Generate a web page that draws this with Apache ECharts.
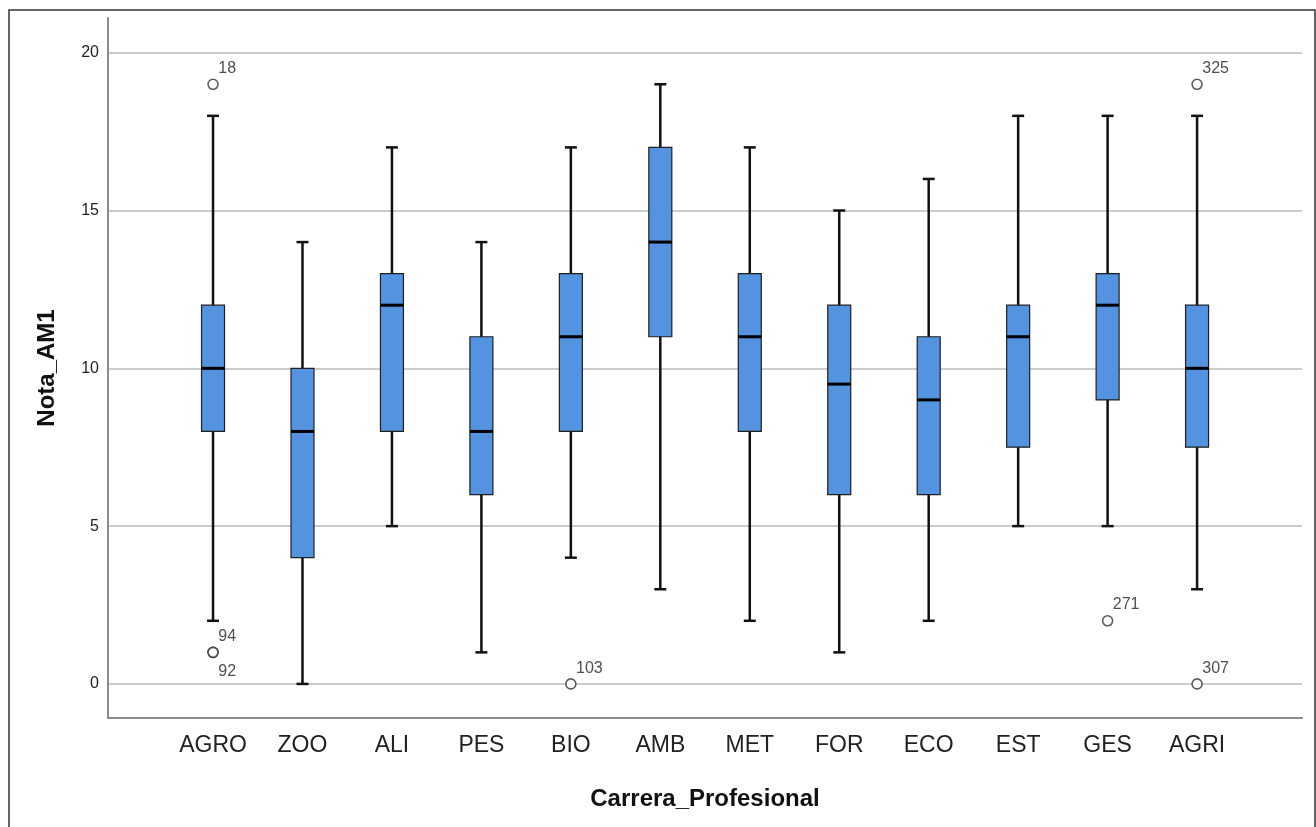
<!DOCTYPE html>
<html>
<head>
<meta charset="utf-8">
<script src="https://cdn.jsdelivr.net/npm/echarts@6/dist/echarts.min.js"></script>
<style>
  html, body { margin: 0; padding: 0; background: #fff; }
  #chart { width: 1316px; height: 827px; }
</style>
</head>
<body>
<div id="chart"></div>
<script>
// ---- Data ----
const categories = ['AGRO', 'ZOO', 'ALI', 'PES', 'BIO', 'AMB', 'MET', 'FOR', 'ECO', 'EST', 'GES', 'AGRI'];
const lowWhisker  = [2, 0, 5, 1, 4, 3, 2, 1, 2, 5, 5, 3];
const q1          = [8, 4, 8, 6, 8, 11, 8, 6, 6, 7.5, 9, 7.5];
const median      = [10, 8, 12, 8, 11, 14, 11, 9.5, 9, 11, 12, 10];
const q3          = [12, 10, 13, 11, 13, 17, 13, 12, 11, 12, 13, 12];
const highWhisker = [18, 14, 17, 14, 17, 19, 17, 15, 16, 18, 18, 18];

const outlierCat = ['AGRO', 'AGRO', 'AGRO', 'BIO', 'GES', 'AGRI', 'AGRI'];
const outlierVal = [19, 1, 1, 0, 2, 19, 0];
const outlierId  = ['18', '94', '92', '103', '271', '325', '307'];

const yTicks = [0, 5, 10, 15, 20];
const yMin = -1.08, yMax = 21.1;

// ---- Build ----
const boxData = categories.map((c, i) => [i, lowWhisker[i], q1[i], median[i], q3[i], highWhisker[i]]);

const seen = {};
const outlierData = outlierCat.map((c, k) => {
  const i = categories.indexOf(c);
  const key = i + '_' + outlierVal[k];
  const dup = seen[key];
  seen[key] = true;
  return {
    value: [i, outlierVal[k]],
    label: {
      show: true,
      formatter: outlierId[k],
      position: dup ? [11, 25] : [11, -10]
    }
  };
});

const FONT = "'Liberation Sans', Arial, sans-serif";

const chart = echarts.init(document.getElementById('chart'), null, { renderer: 'canvas' });

chart.setOption({
  backgroundColor: '#ffffff',
  animation: false,
  graphic: [{
    type: 'rect',
    shape: { x: 9, y: 10, width: 1306, height: 840 },
    style: { fill: 'none', stroke: '#333', lineWidth: 1.5 },
    silent: true,
    z: -10
  }],
  grid: [
    { left: 108, top: 18, width: 1194, height: 700, containLabel: false },
    { left: 168.3, top: 18, width: 1073.5, height: 700, containLabel: false }
  ],
  xAxis: [
    {
      type: 'value', gridIndex: 0, min: 0, max: 1,
      axisLine: { show: true, onZero: false, lineStyle: { color: '#8c8c8c', width: 2 } },
      axisTick: { show: false }, axisLabel: { show: false }, splitLine: { show: false },
      name: 'Carrera_Profesional', nameLocation: 'middle', nameGap: 69,
      nameTextStyle: { fontFamily: FONT, fontSize: 24, fontWeight: 'bold', color: '#111' }
    },
    {
      type: 'category', gridIndex: 1, data: categories, boundaryGap: true,
      axisLine: { show: false }, axisTick: { show: false }, splitLine: { show: false },
      axisLabel: { fontFamily: FONT, fontSize: 23, color: '#222', margin: 16, interval: 0 }
    }
  ],
  yAxis: [
    {
      type: 'value', gridIndex: 0, min: yMin, max: yMax,
      axisLine: { show: true, lineStyle: { color: '#8c8c8c', width: 2 } },
      axisTick: { show: false, customValues: yTicks },
      axisLabel: { customValues: yTicks, fontFamily: FONT, fontSize: 16, color: '#222', margin: 9, padding: [3, 0, 0, 0] },
      splitLine: { show: true, lineStyle: { color: '#cccccc', width: 2 } },
      name: 'Nota_AM1', nameLocation: 'middle', nameGap: 49, nameRotate: 90,
      nameTextStyle: { fontFamily: FONT, fontSize: 24, fontWeight: 'bold', color: '#111' }
    },
    {
      type: 'value', gridIndex: 1, min: yMin, max: yMax,
      axisLine: { show: false }, axisTick: { show: false }, axisLabel: { show: false }, splitLine: { show: false }
    }
  ],
  series: [
    {
      type: 'custom',
      xAxisIndex: 1, yAxisIndex: 1,
      data: boxData,
      encode: { x: 0, y: [1, 2, 3, 4, 5] },
      z: 5,
      renderItem: function (params, api) {
        const i = api.value(0);
        const band = api.size([1, 0])[0];
        const boxW = band * 0.257;
        const capW = band * 0.134;
        const pLow = api.coord([i, api.value(1)]);
        const pQ1 = api.coord([i, api.value(2)]);
        const pMed = api.coord([i, api.value(3)]);
        const pQ3 = api.coord([i, api.value(4)]);
        const pHigh = api.coord([i, api.value(5)]);
        const cx = pLow[0];
        const lineStyle = { stroke: '#111', lineWidth: 2.5 };
        return {
          type: 'group',
          children: [
            { type: 'line', shape: { x1: cx, y1: pLow[1], x2: cx, y2: pHigh[1] }, style: lineStyle },
            { type: 'line', shape: { x1: cx - capW / 2, y1: pLow[1], x2: cx + capW / 2, y2: pLow[1] }, style: lineStyle },
            { type: 'line', shape: { x1: cx - capW / 2, y1: pHigh[1], x2: cx + capW / 2, y2: pHigh[1] }, style: lineStyle },
            { type: 'rect', shape: { x: cx - boxW / 2, y: pQ3[1], width: boxW, height: pQ1[1] - pQ3[1] },
              style: { fill: '#5393e0', stroke: '#1f1f1f', lineWidth: 1.2 } },
            { type: 'line', shape: { x1: cx - boxW / 2, y1: pMed[1], x2: cx + boxW / 2, y2: pMed[1] },
              style: { stroke: '#000', lineWidth: 3 } }
          ]
        };
      }
    },
    {
      type: 'scatter',
      xAxisIndex: 1, yAxisIndex: 1,
      symbol: 'circle', symbolSize: 10,
      itemStyle: { color: '#ffffff', borderColor: '#333', borderWidth: 1.6 },
      label: { show: true, align: 'left', verticalAlign: 'middle', fontFamily: FONT, fontSize: 16, color: '#222' },
      data: outlierData,
      z: 6
    }
  ]
});
</script>
</body>
</html>
